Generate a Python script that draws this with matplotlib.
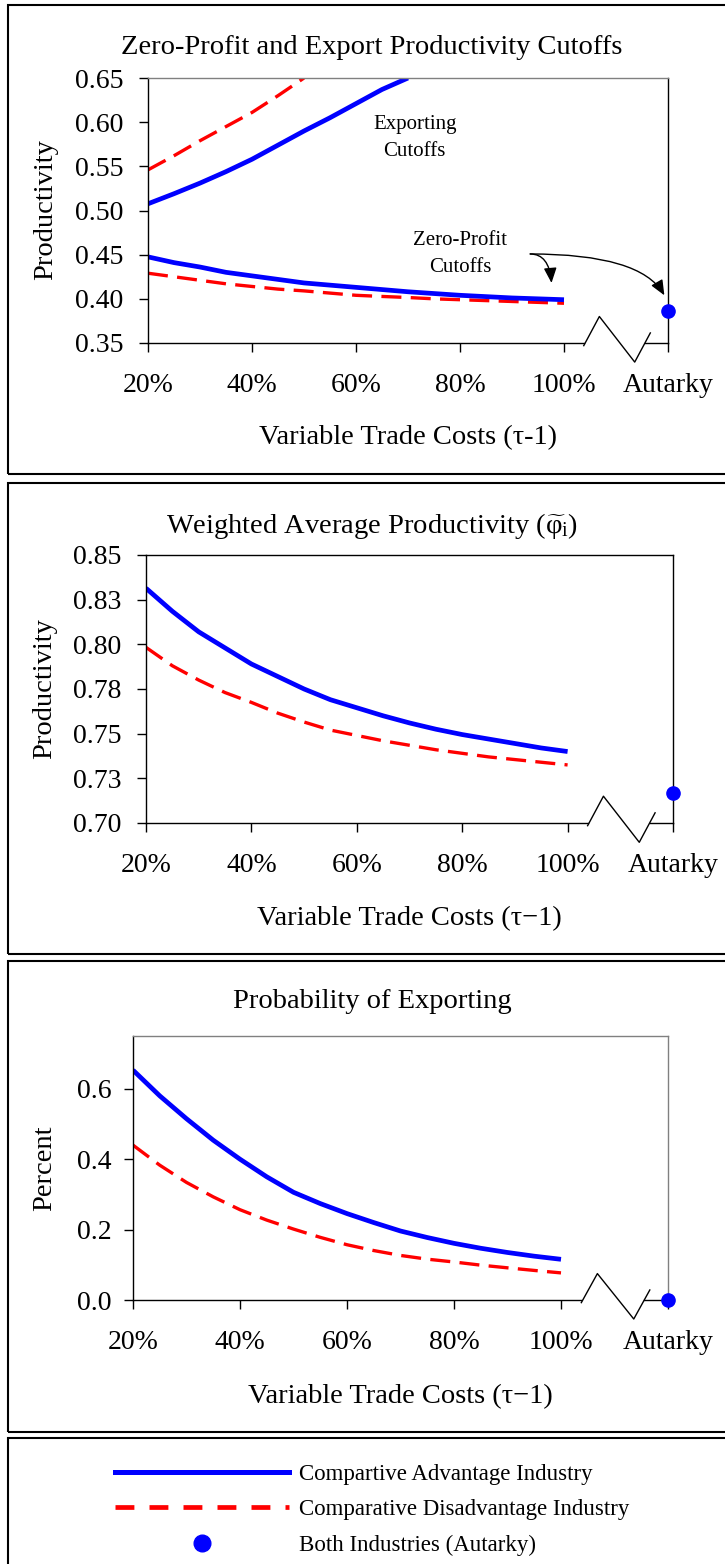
import matplotlib
matplotlib.use("Agg")
import matplotlib.pyplot as plt
from matplotlib.patches import Rectangle
from matplotlib.lines import Line2D
import numpy as np

plt.rcParams['font.family'] = ['Liberation Serif', 'DejaVu Serif']
plt.rcParams['mathtext.fontset'] = 'custom'
plt.rcParams['mathtext.rm'] = 'Liberation Serif'
plt.rcParams['mathtext.it'] = 'Liberation Serif:italic'

# DATA
trade_cost = [20, 25, 30, 35, 40, 45, 50, 55, 60, 65, 70, 75, 80, 85, 90, 95, 100]
tick_pos = [20, 40, 60, 80, 100, 120]
tick_labels = ['20%', '40%', '60%', '80%', '100%', 'Autarky']
autarky_x = 120

# panel 1 - cutoffs
zp_adv = [0.4475, 0.441, 0.436, 0.430, 0.426, 0.422, 0.418, 0.4155, 0.413,
          0.4105, 0.408, 0.406, 0.404, 0.4025, 0.401, 0.400, 0.399]
zp_dis = [0.429, 0.425, 0.421, 0.417, 0.414, 0.411, 0.409, 0.4065, 0.404,
          0.4027, 0.4015, 0.400, 0.399, 0.398, 0.397, 0.396, 0.395]
exp_cost_adv = [20, 25, 30, 35, 40, 45, 50, 55, 60, 65, 70]
exp_adv = [0.5076, 0.519, 0.531, 0.544, 0.558, 0.574, 0.590, 0.605, 0.621, 0.637, 0.650]
exp_cost_dis = [20, 25, 30, 35, 40, 45, 50]
exp_dis = [0.546, 0.562, 0.579, 0.595, 0.611, 0.630, 0.650]
cutoff_autarky = 0.386

# panel 2 - weighted average productivity
wap_adv = [0.8314, 0.8185, 0.807, 0.798, 0.789, 0.782, 0.775, 0.769, 0.7645,
           0.760, 0.756, 0.7525, 0.7495, 0.747, 0.7445, 0.742, 0.740]
wap_dis = [0.7983, 0.788, 0.780, 0.773, 0.7675, 0.7615, 0.7565, 0.752, 0.749,
           0.746, 0.7435, 0.741, 0.739, 0.737, 0.7355, 0.734, 0.7325]
wap_autarky = 0.7168

# panel 3 - probability of exporting
prob_adv = [0.653, 0.580, 0.515, 0.454, 0.400, 0.350, 0.306, 0.274, 0.2455,
            0.220, 0.196, 0.1775, 0.161, 0.147, 0.135, 0.1245, 0.1156]
prob_dis = [0.440, 0.383, 0.334, 0.293, 0.2565, 0.227, 0.2015, 0.178, 0.157,
            0.1405, 0.1266, 0.116, 0.108, 0.099, 0.0914, 0.084, 0.077]
prob_autarky = 0.0

W, H = 725, 1564
fig = plt.figure(figsize=(W / 100, H / 100), dpi=100)

def rect(l, t, r, b):
    return [l / W, 1 - b / H, (r - l) / W, (b - t) / H]

# panel frames
for t, b in [(5, 474), (483, 954), (961, 1432), (1438, 1580)]:
    fig.add_artist(Rectangle((8 / W, 1 - b / H), 740 / W, (b - t) / H,
                             transform=fig.transFigure, fill=False, lw=1.5, ec='black'))

BLUE = '#0000ff'
RED = '#ff0000'
BLUE_LW = 3.4
RED_LW = 2.4
RED_DASH = (6, 2.8)

def setup(ax, ylim, yticks, ylabels, top_c, right_c, ypad):
    ax.set_xlim(20, 120)
    ax.set_ylim(*ylim)
    ax.set_xticks(tick_pos)
    ax.set_xticklabels(tick_labels)
    ax.set_yticks(yticks)
    ax.set_yticklabels(ylabels)
    ax.tick_params(axis='both', direction='out', length=6.5, width=1, labelsize=20, color='black')
    ax.tick_params(axis='x', pad=15)
    ax.tick_params(axis='y', pad=ypad)
    ax.spines['bottom'].set_visible(False)
    ax.spines['top'].set_color(top_c)
    ax.spines['right'].set_color(right_c)
    for s in ['top', 'right', 'left']:
        ax.spines[s].set_linewidth(1)
    # broken x axis
    tr = ax.get_xaxis_transform()
    ax.plot([20, 103.8], [0, 0], color='black', lw=1, transform=tr, clip_on=False)
    ax.plot([115.6, 120], [0, 0], color='black', lw=1, transform=tr, clip_on=False)
    ax.plot([103.8, 106.8, 113.6, 116.6], [-0.01, 0.10, -0.072, 0.038],
            color='black', lw=1, transform=tr, clip_on=False)

def draw(ax, x_adv, y_adv, x_dis, y_dis, aut):
    ax.plot(x_dis, y_dis, color=RED, lw=RED_LW, dashes=RED_DASH)
    ax.plot(x_adv, y_adv, color=BLUE, lw=BLUE_LW, solid_capstyle='butt')
    ax.plot([autarky_x], [aut], 'o', color=BLUE, ms=9.5, clip_on=False, zorder=5)

# ---- panel 1
ax1 = fig.add_axes(rect(148, 78, 668, 343))
setup(ax1, (0.35, 0.65), np.arange(0.35, 0.651, 0.05),
      ['0.35', '0.40', '0.45', '0.50', '0.55', '0.60', '0.65'], '#808080', 'black', 11.5)
ax1.plot(exp_cost_dis, exp_dis, color=RED, lw=RED_LW, dashes=RED_DASH)
ax1.plot(exp_cost_adv, exp_adv, color=BLUE, lw=BLUE_LW, solid_capstyle='butt')
draw(ax1, trade_cost, zp_adv, trade_cost, zp_dis, cutoff_autarky)
ax1.text(71.3, 0.582, 'Exporting\nCutoffs', ha='center', va='center', fontsize=15, linespacing=1.55)
ax1.text(80, 0.451, 'Zero-Profit\nCutoffs', ha='center', va='center', fontsize=15, linespacing=1.55)
ax1.annotate('', xy=(97.6, 0.418), xytext=(93.5, 0.4508),
             arrowprops=dict(arrowstyle='-|>,head_length=0.7,head_width=0.3', color='black', lw=1,
                             mutation_scale=13, shrinkA=0, shrinkB=0,
                             connectionstyle='angle3,angleA=0,angleB=95'))
ax1.annotate('', xy=(119.3, 0.404), xytext=(93.5, 0.4508), annotation_clip=False,
             arrowprops=dict(arrowstyle='-|>,head_length=0.7,head_width=0.3', color='black', lw=1,
                             mutation_scale=13, shrinkA=0, shrinkB=0,
                             connectionstyle='angle3,angleA=0,angleB=120'))
fig.text(372 / W, 1 - 47 / H, 'Zero-Profit and Export Productivity Cutoffs', ha='center', va='center', fontsize=20.5)
fig.text(46 / W, 1 - 210 / H, 'Productivity', ha='center', va='center', rotation=90, fontsize=20.5)
fig.text(408 / W, 1 - 438 / H, 'Variable Trade Costs (τ-1)', ha='center', va='center', fontsize=20.5)

# ---- panel 2
ax2 = fig.add_axes(rect(146, 555, 673, 823))
setup(ax2, (0.70, 0.85), np.arange(0.70, 0.851, 0.025),
      ['0.70', '0.73', '0.75', '0.78', '0.80', '0.83', '0.85'], 'black', 'black', 11)
draw(ax2, trade_cost, wap_adv, trade_cost, wap_dis, wap_autarky)
fig.text(372 / W, 1 - 526 / H, r'Weighted Average Productivity ($\widetilde{\mathrm{\varphi}}_{\mathrm{i}}$)',
         ha='center', va='center', fontsize=20.5)
fig.text(45 / W, 1 - 689 / H, 'Productivity', ha='center', va='center', rotation=90, fontsize=20.5)
fig.text(409 / W, 1 - 919 / H, 'Variable Trade Costs (τ−1)', ha='center', va='center', fontsize=20.5)

# ---- panel 3
ax3 = fig.add_axes(rect(133, 1036, 668, 1300))
setup(ax3, (0.0, 0.75), [0.0, 0.2, 0.4, 0.6], ['0.0', '0.2', '0.4', '0.6'], '#808080', '#808080', 9)
draw(ax3, trade_cost, prob_adv, trade_cost, prob_dis, prob_autarky)
fig.text(372 / W, 1 - 1002 / H, 'Probability of Exporting', ha='center', va='center', fontsize=20.5)
fig.text(45 / W, 1 - 1168 / H, 'Percent', ha='center', va='center', rotation=90, fontsize=20.5)
fig.text(400 / W, 1 - 1397 / H, 'Variable Trade Costs (τ−1)', ha='center', va='center', fontsize=20.5)

# ---- legend
handles = [Line2D([], [], color=BLUE, lw=3.6),
           Line2D([], [], color=RED, lw=3.4, dashes=(4.0, 3.2)),
           Line2D([], [], color=BLUE, ls='none', marker='o', ms=12)]
labels = ['Compartive Advantage Industry', 'Comparative Disadvantage Industry', 'Both Industries (Autarky)']
fig.legend(handles, labels, loc='upper left', bbox_to_anchor=(115 / W, 1 - 1464 / H),
           frameon=False, fontsize=16.5, handlelength=7.6, handletextpad=0.45,
           labelspacing=0.62, borderpad=0, borderaxespad=0)

fig.savefig('out.png', dpi=100)
